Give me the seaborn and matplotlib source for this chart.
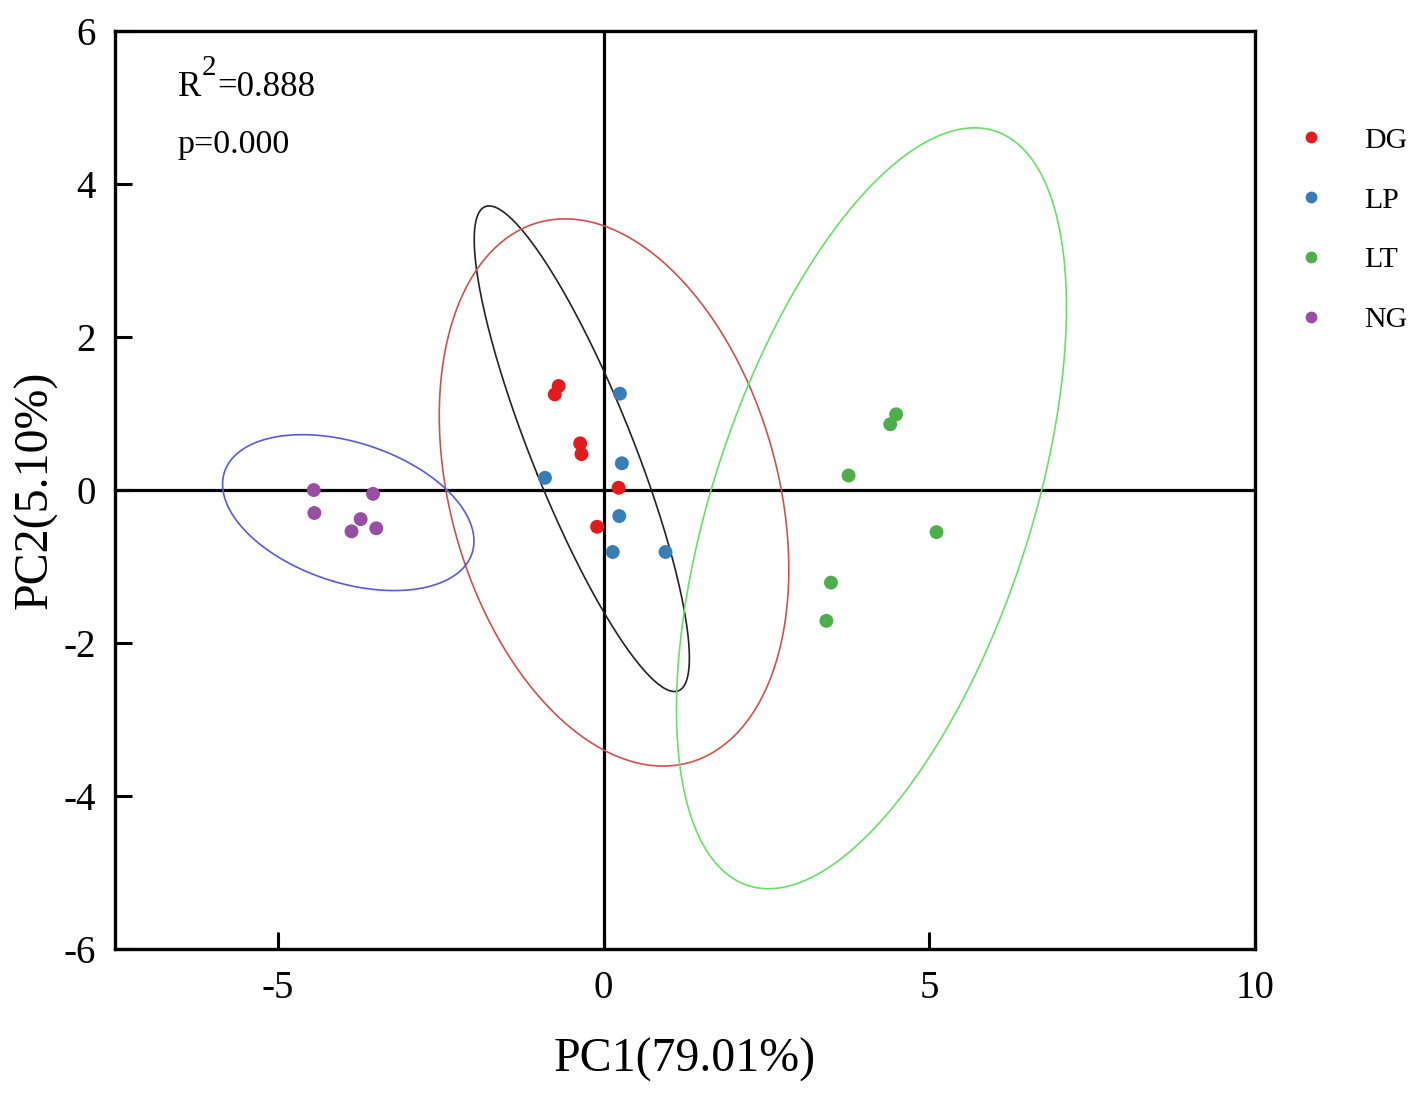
import numpy as np
import pandas as pd
import matplotlib
matplotlib.use("Agg")
import matplotlib.pyplot as plt
import seaborn as sns

# ---- data ----
groups = ["DG", "LP", "LT", "NG"]
dg_x = [-0.69, -0.75, -0.36, -0.34, 0.23, -0.10]
dg_y = [1.36, 1.25, 0.61, 0.47, 0.03, -0.48]
lp_x = [0.25, 0.28, -0.90, 0.24, 0.14, 0.95]
lp_y = [1.26, 0.35, 0.16, -0.34, -0.81, -0.81]
lt_x = [4.49, 4.40, 3.76, 5.11, 3.49, 3.42]
lt_y = [0.99, 0.86, 0.19, -0.55, -1.21, -1.71]
ng_x = [-4.45, -3.54, -4.44, -3.73, -3.87, -3.49]
ng_y = [0.00, -0.05, -0.30, -0.38, -0.54, -0.50]

point_colors = ["#e41a1c", "#377eb8", "#4daf4a", "#984ea3"]
ellipse_colors = ["#222222", "#d05050", "#66e066", "#5a5ad8"]
xticks = [-5, 0, 5, 10]
yticks = [-6, -4, -2, 0, 2, 4, 6]
r2_text = "0.888"
p_text = "0.000"
xlabel = "PC1(79.01%)"
ylabel = "PC2(5.10%)"

xs = [dg_x, lp_x, lt_x, ng_x]
ys = [dg_y, lp_y, lt_y, ng_y]
df = pd.DataFrame({
    "PC1": np.concatenate(xs),
    "PC2": np.concatenate(ys),
    "group": np.repeat(groups, [len(v) for v in xs]),
})

sns.set_theme(style="white")
plt.rcParams["font.family"] = ["Liberation Serif", "DejaVu Serif"]
plt.rcParams["text.color"] = "black"
plt.rcParams["axes.labelcolor"] = "black"

fig = plt.figure(figsize=(14.17, 10.93), dpi=100)
ax = fig.add_axes([0.0812, 0.1317, 0.8045, 0.8399])

# reference lines
ax.axhline(0, color="black", lw=2.3, zorder=1)
ax.axvline(0, color="black", lw=2.3, zorder=1)


def pred_ellipse(x, y, level=0.95, npts=400):
    x = np.asarray(x); y = np.asarray(y)
    n = len(x)
    m = n - 2
    fq = (m / 2.0) * ((1 - level) ** (-2.0 / m) - 1)  # F(level; 2, n-2)
    k = np.sqrt(2 * (n - 1) * (n + 1) / (n * m) * fq)
    cov = np.cov(np.vstack([x, y]))
    vals, vecs = np.linalg.eigh(cov)
    t = np.linspace(0, 2 * np.pi, npts)
    circ = np.vstack([np.cos(t), np.sin(t)])
    pts = vecs @ (np.sqrt(vals)[:, None] * circ) * k
    return pts[0] + x.mean(), pts[1] + y.mean()


for gx, gy, ec in zip(xs, ys, ellipse_colors):
    ex, ey = pred_ellipse(gx, gy)
    ax.plot(ex, ey, color=ec, lw=1.2, zorder=2)

sns.scatterplot(data=df, x="PC1", y="PC2", hue="group", hue_order=groups,
                palette=point_colors, s=100, linewidth=0, ax=ax, zorder=3)

ax.set_xlim(-7.5, 10)
ax.set_ylim(-6, 6)
ax.set_xticks(xticks)
ax.set_yticks(yticks)
ax.set_xticklabels([str(v) for v in xticks])
ax.set_yticklabels([str(v) for v in yticks])
ax.tick_params(axis="both", which="major", bottom=True, left=True,
               top=False, right=False, direction="in", length=12, width=2.2,
               labelsize=28, color="black", labelcolor="black")
ax.tick_params(axis="x", pad=15)
ax.tick_params(axis="y", pad=14)
for sp in ax.spines.values():
    sp.set_visible(True)
    sp.set_color("black")
    sp.set_linewidth(2.4)

ax.set_xlabel(xlabel, fontsize=34.5, labelpad=22)
ax.set_ylabel(ylabel, fontsize=34.5, labelpad=4)

# R^2 annotation with a large raised superscript, p value below
ax.text(-6.54, 5.15, "R", fontsize=25, va="baseline", ha="left")
ax.text(-6.165, 5.42, "2", fontsize=21, va="baseline", ha="left")
ax.text(-5.93, 5.15, "=" + r2_text, fontsize=25, va="baseline", ha="left")
ax.text(-6.54, 4.41, "p=" + p_text, fontsize=24.5, va="baseline", ha="left")

leg = ax.legend(loc="upper left", bbox_to_anchor=(1281 / 1417, 1 - 127 / 1093),
                bbox_transform=fig.transFigure, frameon=False,
                fontsize=21.5, markerscale=0.85, handlelength=2.0,
                handletextpad=0.8, labelspacing=1.1, borderpad=0,
                borderaxespad=0)
for h in leg.legend_handles:
    h.set_linewidth(0)

fig.savefig("out.png", dpi=100)
